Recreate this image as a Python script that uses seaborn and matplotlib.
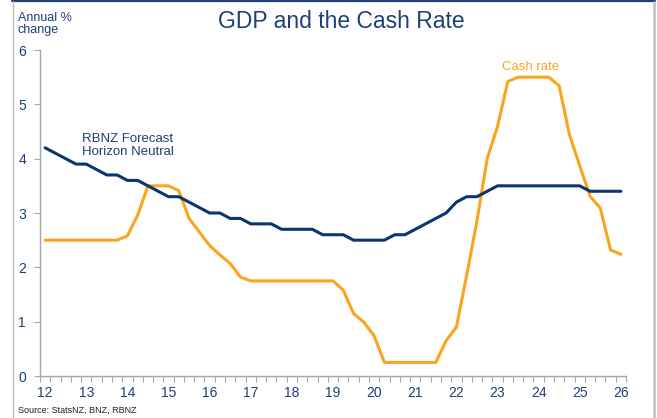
import numpy as np
import pandas as pd
import matplotlib
matplotlib.use("Agg")
import matplotlib.pyplot as plt
from matplotlib.lines import Line2D
import seaborn as sns

# Quarterly observations, 2012 Q1 through 2026 Q1 (x in years since 2000)
quarter_pos = 12 + 0.25 * np.arange(57)

neutral_rate = [
    4.2, 4.1, 4.0, 3.9, 3.9, 3.8, 3.7, 3.7,      # 12 - 13.75
    3.6, 3.6, 3.5, 3.4, 3.3, 3.3, 3.2, 3.1,      # 14 - 15.75
    3.0, 3.0, 2.9, 2.9, 2.8, 2.8, 2.8, 2.7,      # 16 - 17.75
    2.7, 2.7, 2.7, 2.6, 2.6, 2.6, 2.5, 2.5,      # 18 - 19.75
    2.5, 2.5, 2.6, 2.6, 2.7, 2.8, 2.9, 3.0,      # 20 - 21.75
    3.2, 3.3, 3.3, 3.4, 3.5, 3.5, 3.5, 3.5,      # 22 - 23.75
    3.5, 3.5, 3.5, 3.5, 3.5, 3.4, 3.4, 3.4,      # 24 - 25.75
    3.4,                                         # 26
]

cash_rate = [
    2.5, 2.5, 2.5, 2.5, 2.5, 2.5, 2.5, 2.5,      # 12 - 13.75
    2.58, 2.96, 3.5, 3.5, 3.5, 3.41, 2.9, 2.65,  # 14 - 15.75
    2.4, 2.23, 2.07, 1.82, 1.75, 1.75, 1.75, 1.75,  # 16 - 17.75
    1.75, 1.75, 1.75, 1.75, 1.75, 1.58, 1.15, 0.99,  # 18 - 19.75
    0.74, 0.25, 0.25, 0.25, 0.25, 0.25, 0.25, 0.65,  # 20 - 21.75
    0.9, 1.85, 2.85, 4.0, 4.59, 5.42, 5.5, 5.5,  # 22 - 23.75
    5.5, 5.5, 5.34, 4.44, 3.87, 3.31, 3.09, 2.32,  # 24 - 25.75
    2.24,                                        # 26
]

year_ticks = list(range(12, 27))
y_ticks = [0, 1, 2, 3, 4, 5, 6]

NAVY = "#0B3470"
TEXT_NAVY = "#1F3F77"
ORANGE = "#FBA41E"
GREY = "#A6A6A6"

df = pd.DataFrame({
    "quarter": np.concatenate([quarter_pos, quarter_pos]),
    "value": neutral_rate + cash_rate,
    "series": ["Neutral"] * len(neutral_rate) + ["Cash rate"] * len(cash_rate),
})

sns.set_theme(style="white")
plt.rcParams["font.family"] = ["Liberation Sans", "DejaVu Sans"]

fig = plt.figure(figsize=(6.57, 4.18), dpi=100)
ax = fig.add_axes([40 / 657, 1 - 376 / 418, 586 / 657, 326 / 418])

sns.lineplot(data=df, x="quarter", y="value", hue="series",
             palette={"Neutral": NAVY, "Cash rate": ORANGE},
             hue_order=["Cash rate", "Neutral"],
             linewidth=2.2, legend=False, ax=ax)

ax.set_xlim(11.875, 26.125)
ax.set_ylim(0, 6)

# Category-style x axis: quarter boundary ticks, year labels centred on Q1
ax.set_xticks(11.875 + 0.25 * np.arange(58), minor=True)
ax.set_xticks(year_ticks)
ax.set_xticklabels([str(y) for y in year_ticks])
ax.tick_params(axis="x", which="major", length=0, pad=7,
               labelsize=10, labelcolor=TEXT_NAVY)
ax.tick_params(axis="x", which="minor", length=4, width=0.8,
               color=GREY, direction="out", bottom=True)
ax.set_yticks(y_ticks)
ax.tick_params(axis="y", length=4, width=0.8, color=GREY, direction="out",
               left=True, pad=6, labelsize=10, labelcolor=TEXT_NAVY)

for side in ("top", "right"):
    ax.spines[side].set_visible(False)
for side in ("left", "bottom"):
    ax.spines[side].set_color(GREY)
    ax.spines[side].set_linewidth(1.0)

ax.set_xlabel("")
ax.set_ylabel("")

ax.annotate("RBNZ Forecast\nHorizon Neutral", xy=(12.9, 4.02),
            xycoords="data", color=TEXT_NAVY, fontsize=9.5,
            ha="left", va="bottom", linespacing=1.05)
ax.annotate("Cash rate", xy=(23.8, 5.58), xycoords="data",
            color=ORANGE, fontsize=9.5, ha="center", va="bottom")

fig.text(341 / 657, 1 - 22 / 418, "GDP and the Cash Rate",
         color=TEXT_NAVY, fontsize=16.5, ha="center", va="center")
fig.text(18 / 657, 1 - 12 / 418, "Annual %\nchange", color=TEXT_NAVY,
         fontsize=9, ha="left", va="top", linespacing=0.95)
fig.text(18 / 657, 1 - 410 / 418, "Source: StatsNZ, BNZ, RBNZ",
         color="#222222", fontsize=6.5, ha="left", va="center")

# Slide frame: navy rule on top, grey rules down each side
fig.add_artist(Line2D([12 / 657, 655 / 657], [1 - 1 / 418, 1 - 1 / 418],
                      transform=fig.transFigure, color="#1F3F7A", linewidth=1.6))
fig.add_artist(Line2D([12.5 / 657, 12.5 / 657], [0, 1 - 1 / 418],
                      transform=fig.transFigure, color="#BFBFBF", linewidth=1.0))
fig.add_artist(Line2D([653.5 / 657, 653.5 / 657], [0, 1 - 2 / 418],
                      transform=fig.transFigure, color="#BFBFBF", linewidth=1.8))

fig.savefig("out.png", dpi=100)
